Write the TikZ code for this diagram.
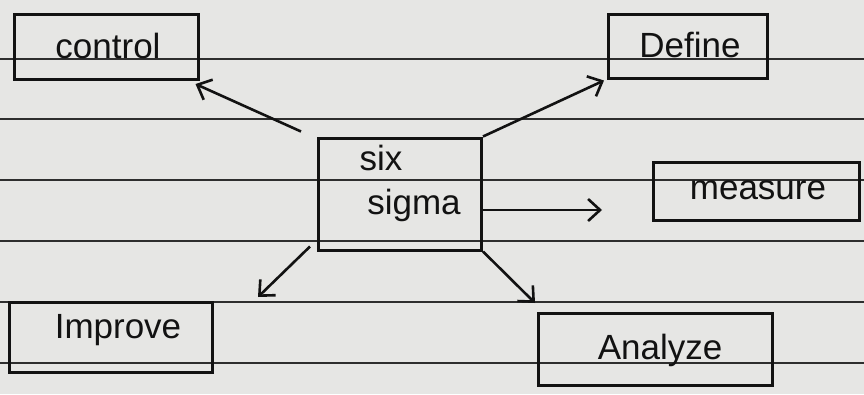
\documentclass[tikz,border=0pt]{standalone}
\usepackage{fontspec}
\setmainfont{Liberation Sans}
\usetikzlibrary{arrows.meta}
\definecolor{paper}{HTML}{E6E6E4}
\definecolor{rule}{HTML}{2E2E2E}
\definecolor{ink}{HTML}{121212}
\tikzset{
  box/.style={draw=ink, line width=3pt, inner sep=0pt},
  lbl/.style={text=ink, font=\fontsize{35}{37}\selectfont, inner sep=0pt},
  arr/.style={draw=ink, line width=2.6pt, -{Straight Barb[length=12pt,width=22pt,line width=2.6pt]}},
  ruled/.style={draw=rule, line width=2.6pt}
}
\begin{document}
\begin{tikzpicture}[x=1pt,y=-1pt]
\fill[paper] (0,0) rectangle (864,394);
\useasboundingbox (0,0) rectangle (864,394);
% ruled lines
\foreach \yy in {59,119,180,241,302,363}{
  \draw[ruled] (0,\yy) -- (864,\yy);
}
% boxes
\node[box, minimum width=163pt, minimum height=112pt] (ss) at (400,194) {};
\node[lbl] (t1) at (381,158) {six};
\node[lbl] (t2) at (414,205) {sigma};
\node[box, minimum width=184pt, minimum height=65pt] (ctl) at (106,47) {};
\node[lbl] (ctlt) at (108,46) {control};
\node[box, minimum width=159pt, minimum height=64pt] (def) at (688,46) {};
\node[lbl] (deft) at (690,45) {Define};
\node[box, minimum width=206pt, minimum height=58pt] (mea) at (756,191) {};
\node[lbl] (meat) at (758,190) {measure};
\node[box, minimum width=203pt, minimum height=70pt] (imp) at (111,337) {};
\node[lbl] (impt) at (118,330) {Improve};
\node[box, minimum width=234pt, minimum height=72pt] (ana) at (655,349) {};
\node[lbl] (anat) at (660,350) {Analyze};
% free ends
\coordinate (meEnd) at (602,210);
\coordinate (impEnd) at (258,297);
\coordinate (anaEnd) at (535,303);
% connectors
\draw[arr] ([shift={(-16,-5)}]ss.north west) -- ([shift={(-4,3)}]ctl.south east);
\draw[arr] (ss.north east) -- ([shift={(-3,1)}]def.south west);
\draw[arr] (ss.east |- meEnd) -- (meEnd);
\draw[arr] ([shift={(-7,-5)}]ss.south west) -- (impEnd);
\draw[arr] (ss.south east) -- (anaEnd);
\end{tikzpicture}
\end{document}
